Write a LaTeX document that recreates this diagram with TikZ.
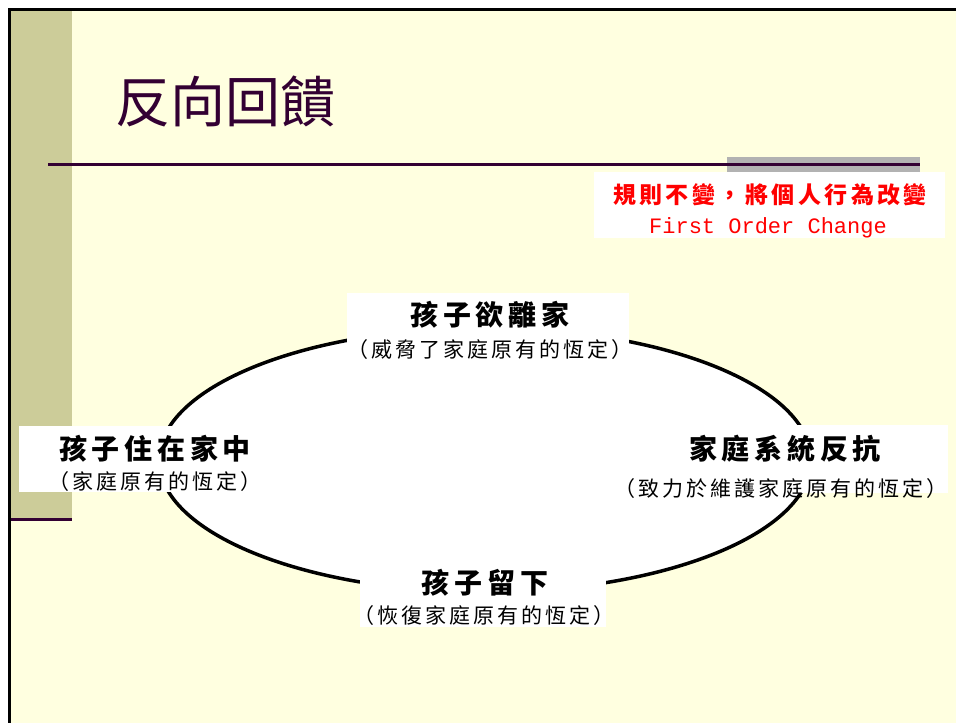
\documentclass[tikz,border=0pt]{standalone}
\usepackage{fontspec}
\usetikzlibrary{shapes.geometric}
\newfontfamily\cjk{Noto Sans CJK TC}
\newfontfamily\cjkB{Noto Sans CJK TC}[LetterSpace=17]
\newfontfamily\cjkR{Noto Sans CJK TC}[LetterSpace=15]
\newfontfamily\cjkS{Noto Sans CJK TC}[LetterSpace=14]
\newfontfamily\monof{Liberation Mono}
\definecolor{bgyellow}{HTML}{FFFFE0}
\definecolor{olive}{HTML}{CCCC99}
\definecolor{darkpurple}{HTML}{330033}
\definecolor{barGray}{HTML}{B2B2B2}
\definecolor{redtxt}{HTML}{FF0000}
\tikzset{
  mainlbl/.style={anchor=base, inner sep=0pt, font=\cjkB\bfseries\fontsize{28}{28}\selectfont},
  sublbl/.style={anchor=base, inner sep=0pt, font=\cjkS\fontsize{21}{21}\selectfont},
  whitebox/.style={fill=white, draw=none},
}
\begin{document}
\begin{tikzpicture}[x=1pt,y=-1pt]
\useasboundingbox (0,0) rectangle (956,723);
\fill[white] (0,0) rectangle (956,723);
% slide background
\fill[bgyellow] (10,10) rectangle (956,723);
\fill[olive] (10,10) rectangle (72,519);
\draw[darkpurple, line width=3pt] (9,519) -- (72,519);
\draw[black, line width=3pt] (9,723) -- (9,9) -- (956,9);
% title
\node[anchor=base, inner sep=0pt, text=darkpurple, font=\cjk\fontsize{55}{55}\selectfont] (title) at (225,122) {反向回饋};
% rule
\fill[barGray] (727,157) rectangle (920,172);
\draw[darkpurple, line width=3pt] (48,164) -- (920,164);
% red box
\fill[white] (594,172) rectangle (945,238);
\node[anchor=base, inner sep=0pt, text=redtxt, font=\cjkR\bfseries\fontsize{23}{23}\selectfont] (rule1) at (770,203) {規則不變，將個人行為改變};
\node[anchor=base, inner sep=0pt, text=redtxt, font=\monof\fontsize{22}{22}\selectfont] (rule2) at (768,233) {First Order Change};
% ellipse
\node[draw=black, line width=3.5pt, fill=white, ellipse, minimum width=652pt, minimum height=264pt, inner sep=0pt] (loop) at (485,460) {};
% label boxes
\fill[whitebox] (347,293) rectangle (629,362);
\fill[whitebox] (19,426) rectangle (252,492);
\fill[whitebox] (612,425) rectangle (948,493);
\fill[whitebox] (360,563) rectangle (606,627);
% top
\node[mainlbl] (topA) at (490,325) {孩子欲離家};
\node[sublbl] (topB) at (490,357) {（威脅了家庭原有的恆定）};
% left
\node[mainlbl] (leftA) at (155,459) {孩子住在家中};
\node[sublbl] (leftB) at (155,489) {（家庭原有的恆定）};
% right
\node[mainlbl] (rightA) at (785,459) {家庭系統反抗};
\node[sublbl] (rightB) at (781,496) {（致力於維護家庭原有的恆定）};
% bottom
\node[mainlbl] (botA) at (485,593) {孩子留下};
\node[sublbl] (botB) at (484,623) {（恢復家庭原有的恆定）};
\end{tikzpicture}
\end{document}
